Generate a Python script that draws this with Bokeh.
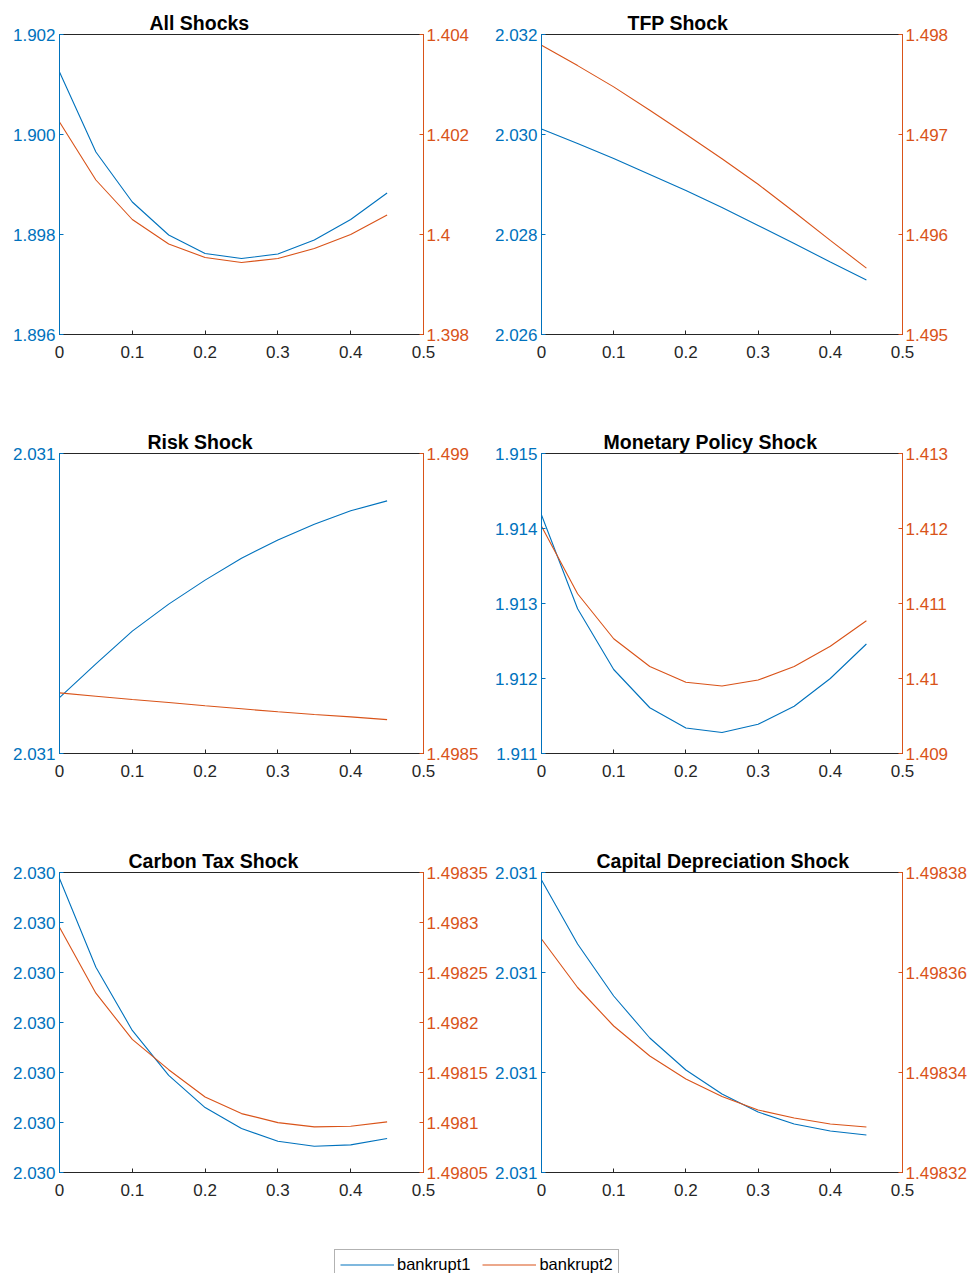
from bokeh.plotting import figure
from bokeh.models import Range1d, LinearAxis, FixedTicker, Legend, LegendItem
from bokeh.layouts import column, row
from bokeh.embed import file_html
from bokeh.resources import INLINE

# ---------------- data ----------------
x_vals = [0.0, 0.05, 0.1, 0.15, 0.2, 0.25, 0.3, 0.35, 0.4, 0.45]
x_ticks = [0.0, 0.1, 0.2, 0.3, 0.4, 0.5]
x_labels = ["0", "0.1", "0.2", "0.3", "0.4", "0.5"]

series_names = ["bankrupt1", "bankrupt2"]

titles = ["All Shocks", "TFP Shock", "Risk Shock", "Monetary Policy Shock",
          "Carbon Tax Shock", "Capital Depreciation Shock"]

all_b1 = [1.90125, 1.89965, 1.89865, 1.89799, 1.89762, 1.89752, 1.89761, 1.89789, 1.89830, 1.89883]
all_b2 = [1.40225, 1.40109, 1.40030, 1.39981, 1.39954, 1.39944, 1.39952, 1.39972, 1.40000, 1.40039]
all_lticks = [1.896, 1.898, 1.900, 1.902]
all_llabels = ["1.896", "1.898", "1.900", "1.902"]
all_rticks = [1.398, 1.400, 1.402, 1.404]
all_rlabels = ["1.398", "1.4", "1.402", "1.404"]

tfp_b1 = [2.03011, 2.02982, 2.02952, 2.02920, 2.02888, 2.02854, 2.02818, 2.02782, 2.02745, 2.02709]
tfp_b2 = [1.497893, 1.497689, 1.497476, 1.497242, 1.497002, 1.496758, 1.496502, 1.496225, 1.495941, 1.495664]
tfp_lticks = [2.026, 2.028, 2.030, 2.032]
tfp_llabels = ["2.026", "2.028", "2.030", "2.032"]
tfp_rticks = [1.495, 1.496, 1.497, 1.498]
tfp_rlabels = ["1.495", "1.496", "1.497", "1.498"]

risk_b1 = [2.0310186, 2.0310299, 2.0310408, 2.0310498, 2.0310578, 2.0310651, 2.0310712, 2.0310764, 2.0310809, 2.0310842]
risk_b2 = [1.498601, 1.4985955, 1.49859, 1.498585, 1.4985795, 1.4985745, 1.4985695, 1.498565, 1.498561, 1.4985565]
risk_lticks = [2.0310, 2.0311]
risk_llabels = ["2.031", "2.031"]
risk_rticks = [1.4985, 1.4990]
risk_rlabels = ["1.4985", "1.499"]

mp_b1 = [1.91418, 1.91293, 1.91212, 1.91161, 1.91134, 1.91128, 1.91139, 1.91163, 1.91200, 1.91246]
mp_b2 = [1.41203, 1.41113, 1.41053, 1.41016, 1.40995, 1.40990, 1.40998, 1.41016, 1.41043, 1.41077]
mp_lticks = [1.911, 1.912, 1.913, 1.914, 1.915]
mp_llabels = ["1.911", "1.912", "1.913", "1.914", "1.915"]
mp_rticks = [1.409, 1.410, 1.411, 1.412, 1.413]
mp_rlabels = ["1.409", "1.41", "1.411", "1.412", "1.413"]

ct_b1 = [2.0302940, 2.0302053, 2.0301421, 2.0300972, 2.0300649, 2.0300439, 2.0300313, 2.0300263, 2.0300276, 2.0300340]
ct_b2 = [1.4982952, 1.4982293, 1.4981831, 1.4981528, 1.4981255, 1.4981089, 1.4980999, 1.4980956, 1.4980963, 1.4981006]
ct_lticks = [2.03000, 2.03005, 2.03010, 2.03015, 2.03020, 2.03025, 2.03030]
ct_llabels = ["2.030", "2.030", "2.030", "2.030", "2.030", "2.030", "2.030"]
ct_rticks = [1.49805, 1.49810, 1.49815, 1.49820, 1.49825, 1.49830, 1.49835]
ct_rlabels = ["1.49805", "1.4981", "1.49815", "1.4982", "1.49825", "1.4983", "1.49835"]

cd_b1 = [2.0310585, 2.0310457, 2.0310353, 2.0310269, 2.0310205, 2.0310157, 2.0310121, 2.0310097, 2.0310083, 2.0310075]
cd_b2 = [1.4983667, 1.4983570, 1.4983493, 1.4983433, 1.4983387, 1.4983352, 1.4983325, 1.4983309, 1.4983297, 1.4983291]
cd_lticks = [2.03100, 2.03102, 2.03104, 2.03106]
cd_llabels = ["2.031", "2.031", "2.031", "2.031"]
cd_rticks = [1.49832, 1.49834, 1.49836, 1.49838]
cd_rlabels = ["1.49832", "1.49834", "1.49836", "1.49838"]

# ---------------- style ----------------
BLUE = "#0072BD"
ORANGE = "#D95319"
DARK = "#262626"
FONT = "Liberation Sans"
TICK_FS = "17px"


def style_axis(ax, color):
    ax.axis_line_color = color
    ax.major_tick_line_color = color
    ax.minor_tick_line_color = None
    ax.major_tick_in = 4
    ax.major_tick_out = 0
    ax.major_label_text_color = color
    ax.major_label_text_font = FONT
    ax.major_label_text_font_size = TICK_FS
    ax.axis_line_width = 1


def make_panel(title, title_off, b1, b2, lticks, llabels, rticks, rlabels,
               border_left, border_right, height, border_bottom):
    width = border_left + 364 + border_right
    p = figure(width=width, height=height, toolbar_location=None, output_backend="svg",
               x_range=Range1d(0, 0.5), y_range=Range1d(lticks[0], lticks[-1]),
               min_border_left=border_left, min_border_right=border_right,
               min_border_top=34, min_border_bottom=border_bottom,
               outline_line_color=DARK, outline_line_width=1, title=title)
    p.xgrid.visible = False
    p.ygrid.visible = False
    p.background_fill_color = "white"
    p.border_fill_color = "white"

    p.title.text_font = FONT
    p.title.text_font_size = "19.5px"
    p.title.text_font_style = "bold"
    p.title.text_color = "black"
    p.title.align = "left"
    p.title.offset = title_off
    p.title.standoff = 2

    # x axis (bottom)
    xa = p.xaxis[0]
    xa.ticker = FixedTicker(ticks=x_ticks)
    xa.major_label_overrides = dict(zip(x_ticks, x_labels))
    style_axis(xa, DARK)
    xa.major_label_standoff = 11

    # left axis
    ya = p.yaxis[0]
    ya.ticker = FixedTicker(ticks=lticks)
    ya.major_label_overrides = dict(zip(lticks, llabels))
    style_axis(ya, BLUE)
    ya.major_label_standoff = 4

    # right axis
    p.extra_y_ranges = {"r": Range1d(rticks[0], rticks[-1])}
    ra = LinearAxis(y_range_name="r", ticker=FixedTicker(ticks=rticks))
    ra.major_label_overrides = dict(zip(rticks, rlabels))
    style_axis(ra, ORANGE)
    ra.major_label_standoff = 3
    p.add_layout(ra, "right")

    p.line(x_vals, b1, color=BLUE, line_width=1.1)
    p.line(x_vals, b2, color=ORANGE, line_width=1.1, y_range_name="r")
    return p


p1 = make_panel(titles[0], 90, all_b1, all_b2, all_lticks, all_llabels, all_rticks, all_rlabels, 59, 68, 419, 85)
p2 = make_panel(titles[1], 86, tfp_b1, tfp_b2, tfp_lticks, tfp_llabels, tfp_rticks, tfp_rlabels, 47, 67, 419, 85)
p3 = make_panel(titles[2], 88, risk_b1, risk_b2, risk_lticks, risk_llabels, risk_rticks, risk_rlabels, 59, 68, 419, 85)
p4 = make_panel(titles[3], 62, mp_b1, mp_b2, mp_lticks, mp_llabels, mp_rticks, mp_rlabels, 47, 67, 419, 85)
p5 = make_panel(titles[4], 69, ct_b1, ct_b2, ct_lticks, ct_llabels, ct_rticks, ct_rlabels, 59, 68, 402, 68)
p6 = make_panel(titles[5], 55, cd_b1, cd_b2, cd_lticks, cd_llabels, cd_rticks, cd_rlabels, 47, 67, 402, 68)

# legend strip (series lines fall outside its ranges; only the legend shows)
lg = figure(width=969, height=33, toolbar_location=None, output_backend="svg",
            x_range=Range1d(0, 1), y_range=Range1d(-1, 0), min_border=0,
            x_axis_type=None, y_axis_type=None, outline_line_color=None)
lg.xgrid.visible = False
lg.ygrid.visible = False
r1 = lg.line(x_vals, all_b1, color=BLUE, line_width=1.1)
r2 = lg.line(x_vals, all_b2, color=ORANGE, line_width=1.1)
legend = Legend(items=[LegendItem(label=series_names[0], renderers=[r1]),
                       LegendItem(label=series_names[1], renderers=[r2])],
                orientation="horizontal", location=(334, -7),
                label_text_font=FONT, label_text_font_size="16.5px", label_text_color="black",
                glyph_width=54, glyph_height=15, label_height=17, label_standoff=3, spacing=12,
                padding=5, margin=0, border_line_color="#666666", border_line_width=1,
                background_fill_color="white", background_fill_alpha=1)
lg.add_layout(legend)

layout = column(row(p1, p2), row(p3, p4), row(p5, p6), lg)

open("out.html", "w").write(file_html(layout, INLINE))
